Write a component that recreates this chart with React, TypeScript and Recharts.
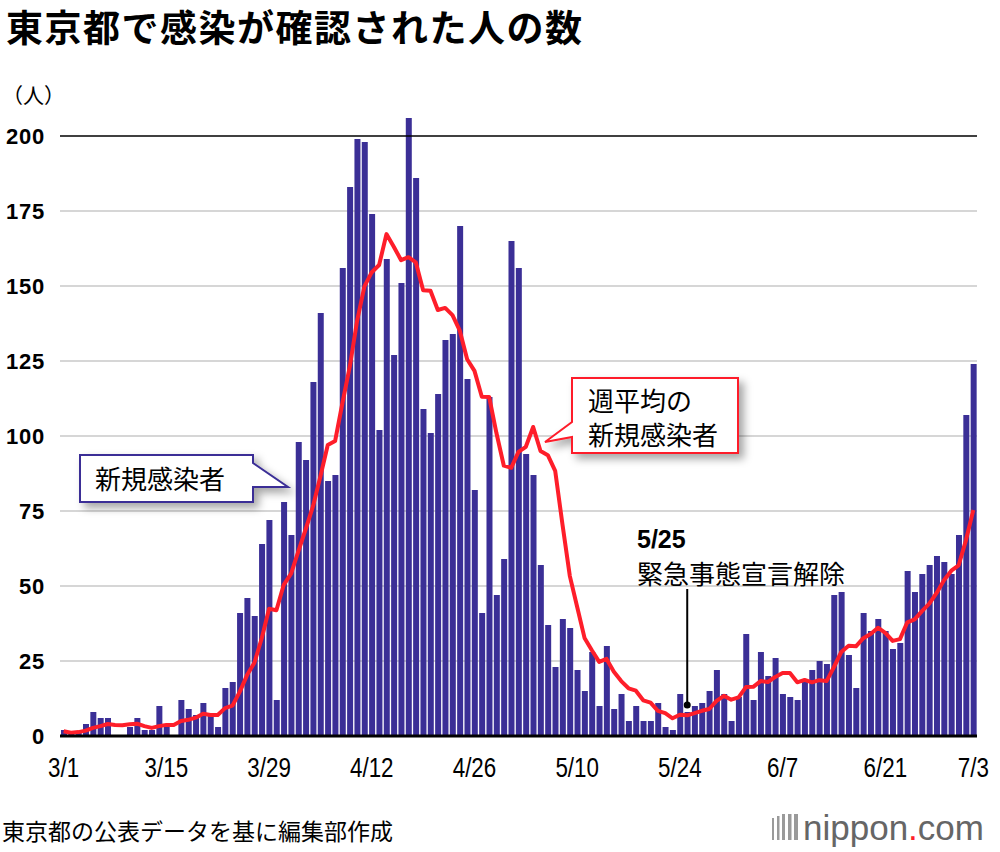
import {
  ComposedChart, Bar, Line, XAxis, YAxis, CartesianGrid, ReferenceLine, ReferenceDot,
} from 'recharts';

// days 3/1 .. 7/3
const dates: string[] = [
  ...'3/1 3/2 3/3 3/4 3/5 3/6 3/7 3/8 3/9 3/10 3/11 3/12 3/13 3/14 3/15 3/16 3/17 3/18 3/19 3/20 3/21 3/22 3/23 3/24 3/25 3/26 3/27 3/28 3/29 3/30 3/31'.split(' '),
  ...'4/1 4/2 4/3 4/4 4/5 4/6 4/7 4/8 4/9 4/10 4/11 4/12 4/13 4/14 4/15 4/16 4/17 4/18 4/19 4/20 4/21 4/22 4/23 4/24 4/25 4/26 4/27 4/28 4/29 4/30'.split(' '),
  ...'5/1 5/2 5/3 5/4 5/5 5/6 5/7 5/8 5/9 5/10 5/11 5/12 5/13 5/14 5/15 5/16 5/17 5/18 5/19 5/20 5/21 5/22 5/23 5/24 5/25 5/26 5/27 5/28 5/29 5/30 5/31'.split(' '),
  ...'6/1 6/2 6/3 6/4 6/5 6/6 6/7 6/8 6/9 6/10 6/11 6/12 6/13 6/14 6/15 6/16 6/17 6/18 6/19 6/20 6/21 6/22 6/23 6/24 6/25 6/26 6/27 6/28 6/29 6/30'.split(' '),
  ...'7/1 7/2 7/3'.split(' '),
];

// 新規感染者 (daily)
const newCases: number[] = [
  2, 1, 1, 4, 8, 6, 6, 0, 0, 3, 6, 2, 2, 10, 3, 0, 12, 9, 7, 11, 7, 3, 16, 18, 41, 46, 40, 64, 72, 12, 78,
  67, 98, 92, 118, 141, 85, 87, 156, 183, 199, 198, 174, 102, 159, 127, 151, 206, 186, 109, 101, 114, 132, 134, 170, 119, 82, 41, 113, 47, 59,
  165, 156, 94, 87, 57, 37, 23, 39, 36, 22, 15, 28, 10, 30, 9, 14, 5, 10, 5, 5, 11, 3, 2, 14, 8, 10, 11, 15, 22, 14, 5,
  13, 34, 12, 28, 20, 26, 14, 13, 12, 18, 22, 25, 24, 47, 48, 27, 16, 41, 35, 39, 35, 29, 31, 55, 48, 54, 57, 60, 58, 54,
  67, 107, 124,
];

// 週平均の新規感染者 (red line)
const weeklyAvg: number[] = [
  1.6, 1.1, 1.3, 1.8, 2.7, 3.3, 4.0, 3.7, 3.6, 3.9, 4.1, 3.3, 2.7, 3.3, 3.7, 3.7, 5.0, 5.4, 6.1, 7.4, 7.0, 7.0, 9.3, 10.1, 14.7,
  20.3, 24.4, 32.6, 42.4, 41.9, 50.4, 54.1, 61.6, 69.0, 76.7, 86.6, 97.0, 98.3, 111.0, 123.1, 138.4, 149.9, 154.6, 157.0, 167.3,
  163.1, 158.6, 159.6, 157.9, 148.6, 148.4, 142.0, 142.7, 140.3, 135.1, 125.6, 121.7, 113.1, 113.0, 100.9, 90.1, 89.4, 94.7, 96.4,
  103.0, 95.0, 93.6, 88.4, 70.4, 53.3, 43.0, 32.7, 28.6, 24.7, 25.7, 21.4, 18.3, 15.9, 15.1, 11.9, 11.1, 8.4, 7.6, 5.9, 7.1, 6.9,
  7.6, 8.4, 9.0, 11.7, 13.4, 12.1, 12.9, 16.3, 16.4, 18.3, 18.0, 19.7, 21.0, 21.0, 17.9, 18.7, 17.9, 18.6, 18.3, 23.0, 28.0, 30.1,
  29.9, 32.6, 34.0, 36.1, 34.4, 31.7, 32.3, 37.9, 38.9, 41.6, 44.1, 47.7, 51.9, 55.1, 56.9, 65.3, 75.3,
];

const xTickLabels = ['3/1', '3/15', '3/29', '4/12', '4/26', '5/10', '5/24', '6/7', '6/21', '7/3'];
const yTicks = [0, 25, 50, 75, 100, 125, 150, 175, 200];
const grayGrid = [25, 50, 75, 100, 125, 150, 175];

const data = dates.map((d, i) => ({ date: d, cases: newCases[i], avg: weeklyAvg[i] }));

const BAR = '#3b2f96';
const RED = '#fe1e2a';
const JP = "'Noto Sans CJK JP', sans-serif";
const LAT = "'Liberation Sans', Arial, sans-serif";

function XTick(props: any) {
  const { x, y, payload } = props;
  if (!xTickLabels.includes(payload.value)) return <g />;
  return (
    <text
      x={x}
      y={y + 41}
      textAnchor="middle"
      fontFamily={LAT}
      fontSize={28}
      fill="#000"
      transform={`translate(${x},0) scale(0.8,1) translate(${-x},0)`}
    >
      {payload.value}
    </text>
  );
}

export default function App() {
  return (
    <div style={{ position: 'absolute', left: 0, top: 0, width: 1000, height: 852, background: '#fff' }}>
      <ComposedChart
        width={1000}
        height={852}
        data={data}
        margin={{ top: 106, right: 23, bottom: 86, left: 0 }}
      >
        <CartesianGrid vertical={false} horizontalValues={grayGrid} stroke="#c8c8c8" strokeWidth={1.5} />
        <XAxis
          dataKey="date"
          height={30}
          interval={0}
          tick={XTick}
          tickLine={false}
          tickSize={0}
          tickMargin={0}
          axisLine={{ stroke: '#000', strokeWidth: 3 }}
        />
        <YAxis
          width={60}
          domain={[0, 210]}
          ticks={yTicks}
          interval={0}
          axisLine={false}
          tickLine={false}
          tickSize={0}
          tickMargin={15}
          tick={{ fill: '#000', fontSize: 22, fontWeight: 700, fontFamily: LAT, letterSpacing: 0.8 }}
        />
        <ReferenceLine y={200} stroke="#000" strokeWidth={1.5} />
        <Bar dataKey="cases" fill={BAR} barSize={6} isAnimationActive={false} />
        <Line
          type="linear"
          dataKey="avg"
          stroke={RED}
          strokeWidth={4}
          dot={false}
          strokeLinejoin="round"
          isAnimationActive={false}
        />
        <ReferenceLine
          segment={[{ x: '5/25', y: 10.3 }, { x: '5/25', y: 49 }]}
          stroke="#000"
          strokeWidth={2}
        />
        <ReferenceDot x="5/25" y={10.3} r={3.5} fill="#000" stroke="none" />
      </ComposedChart>

      <svg
        width={1000}
        height={852}
        style={{ position: 'absolute', left: 0, top: 0, pointerEvents: 'none' }}
      >
        <defs>
          <filter id="shadow" x="-20%" y="-20%" width="150%" height="160%">
            <feDropShadow dx="5" dy="5" stdDeviation="4" floodColor="#000" floodOpacity="0.35" />
          </filter>
        </defs>

        {/* title */}
        <text x={6} y={42} fontFamily={JP} fontWeight={700} fontSize={37} letterSpacing={1.5} fill="#000">
          東京都で感染が確認された人の数
        </text>
        <text x={2} y={103} fontFamily={JP} fontSize={21} fill="#000">（人）</text>

        {/* 新規感染者 callout */}
        <path
          d="M80,455 H253 V463 L288,487 H253 V502 H80 Z"
          fill="#fff"
          stroke={BAR}
          strokeWidth={2}
          filter="url(#shadow)"
        />
        <text x={95} y={489} fontFamily={JP} fontSize={26} fill="#000">新規感染者</text>

        {/* 週平均の新規感染者 callout */}
        <path
          d="M572,378 H738 V453 H572 V437 L545,442 L572,422 Z"
          fill="#fff"
          stroke={RED}
          strokeWidth={2}
          filter="url(#shadow)"
        />
        <text x={588} y={411} fontFamily={JP} fontSize={26} fill="#000">週平均の</text>
        <text x={588} y={445} fontFamily={JP} fontSize={26} fill="#000">新規感染者</text>

        {/* 5/25 note */}
        <text x={637} y={548} fontFamily={LAT} fontWeight={700} fontSize={25} fill="#000">5/25</text>
        <text x={637} y={584} fontFamily={JP} fontSize={26} fill="#000">緊急事態宣言解除</text>

        {/* footer */}
        <text x={2} y={840} fontFamily={JP} fontSize={23} fill="#000">東京都の公表データを基に編集部作成</text>
        <g fill="#9a9a9a">
          <rect x={772} y={818} width={2} height={22} />
          <rect x={777} y={816} width={2.5} height={24} />
          <rect x={782} y={814} width={3} height={26} />
          <rect x={788} y={814} width={3.5} height={26} />
          <rect x={794} y={814} width={4} height={26} />
        </g>
        <text x={803} y={840} fontFamily={LAT} fontSize={35} fill="#666">
          nippon<tspan fill={RED}>.</tspan>com
        </text>
      </svg>
    </div>
  );
}
